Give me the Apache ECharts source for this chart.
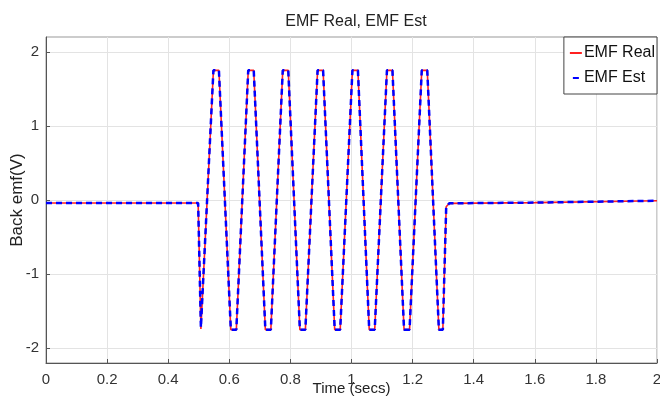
<!DOCTYPE html>
<html>
<head>
<meta charset="utf-8">
<script src="https://cdn.jsdelivr.net/npm/echarts@6/dist/echarts.min.js"></script>
<style>
  html, body { margin: 0; padding: 0; background: #fff; }
  #emf_chart { width: 660px; height: 396px; }
</style>
</head>
<body>
<div id="emf_chart"></div>
<script>
// 时间点 (s) 和两条曲线的取值，从图上读出来的
var t_secs = [0, 0.498, 0.507, 0.548, 0.566, 0.605, 0.623, 0.662, 0.680, 0.718, 0.736,
    0.775, 0.793, 0.831, 0.849, 0.889, 0.907, 0.945, 0.963, 1.003, 1.021, 1.058, 1.076,
    1.116, 1.134, 1.172, 1.190, 1.230, 1.248, 1.286, 1.299, 1.310, 1.320, 1.6, 2.0];
var emf_real = [-0.04, -0.04, -1.74, 1.75, 1.75, -1.75, -1.75, 1.75, 1.75, -1.75, -1.75,
    1.75, 1.75, -1.75, -1.75, 1.75, 1.75, -1.75, -1.75, 1.75, 1.75, -1.75, -1.75,
    1.75, 1.75, -1.75, -1.75, 1.75, 1.75, -1.75, -1.75, -0.09, -0.045, -0.035, -0.01];
var emf_est = [-0.04, -0.04, -1.72, 1.75, 1.75, -1.75, -1.75, 1.75, 1.75, -1.75, -1.75,
    1.75, 1.75, -1.75, -1.75, 1.75, 1.75, -1.75, -1.75, 1.75, 1.75, -1.75, -1.75,
    1.75, 1.75, -1.75, -1.75, 1.75, 1.75, -1.75, -1.75, -0.09, -0.045, -0.035, -0.01];
var y_ticks = [-2, -1, 0, 1, 2];

function pairs(xs, ys) {
    return xs.map(function (x, i) { return [x, ys[i]]; });
}

var myChart = echarts.init(document.getElementById('emf_chart'));
var font = 'Liberation Sans, Arial, sans-serif';
var option = {
    animation: false,
    title: {
        text: 'EMF Real, EMF Est',
        left: 351,
        textAlign: 'center',
        top: 9,
        textStyle: { fontFamily: font, fontSize: 16, fontWeight: 'normal', color: '#222' }
    },
    legend: {
        orient: 'vertical',
        right: 3,
        top: 37,
        itemWidth: 12,
        itemHeight: 2,
        itemGap: 9,
        padding: [8, 2, 8, 6],
        backgroundColor: '#fff',
        borderColor: '#444',
        borderWidth: 1,
        textStyle: { fontFamily: font, fontSize: 16, color: '#111', padding: [0, 0, 0, -3] },
        data: [
            { name: 'EMF Real', icon: 'rect' },
            { name: 'EMF Est', icon: 'path://M6,0 L12,0 L12,2 L6,2 Z' }
        ]
    },
    grid: {
        left: 46,
        right: 3,
        top: 37,
        bottom: 33,
        outerBoundsMode: 'none',
        show: true,
        borderColor: '#999',
        borderWidth: 1
    },
    xAxis: {
        type: 'value',
        min: 0,
        max: 2,
        interval: 0.2,
        name: 'Time (secs)',
        nameLocation: 'middle',
        nameGap: 18,
        nameMoveOverlap: false,
        nameTextStyle: { fontFamily: font, fontSize: 15, color: '#222' },
        axisLine: { onZero: false, lineStyle: { color: '#555' } },
        axisTick: { inside: true, length: 4, lineStyle: { color: '#555' } },
        axisLabel: { fontFamily: font, fontSize: 15, color: '#333', margin: 9 },
        splitLine: { show: true, lineStyle: { color: '#e3e3e3' } }
    },
    yAxis: {
        type: 'value',
        min: -2.2,
        max: 2.2,
        name: 'Back emf(V)',
        nameLocation: 'middle',
        nameGap: 20,
        nameMoveOverlap: false,
        nameTextStyle: { fontFamily: font, fontSize: 17, color: '#222' },
        axisLine: { show: true, lineStyle: { color: '#555' } },
        axisTick: { show: true, inside: true, length: 4, customValues: y_ticks, lineStyle: { color: '#555' } },
        axisLabel: { fontFamily: font, fontSize: 15, color: '#333', margin: 7, customValues: y_ticks },
        splitLine: { show: true, lineStyle: { color: '#e3e3e3' } }
    },
    series: [
        {
            name: 'EMF Real',
            type: 'line',
            showSymbol: false,
            symbol: 'none',
            data: pairs(t_secs, emf_real),
            lineStyle: { color: '#ff2020', width: 1.6 },
            itemStyle: { color: '#ff2020' }
        },
        {
            name: 'EMF Est',
            type: 'line',
            showSymbol: false,
            symbol: 'none',
            data: pairs(t_secs, emf_est),
            lineStyle: { color: '#0000ff', width: 2.5, type: [6, 4] },
            itemStyle: { color: '#0000ff' }
        }
    ]
};
myChart.setOption(option);
</script>
</body>
</html>
